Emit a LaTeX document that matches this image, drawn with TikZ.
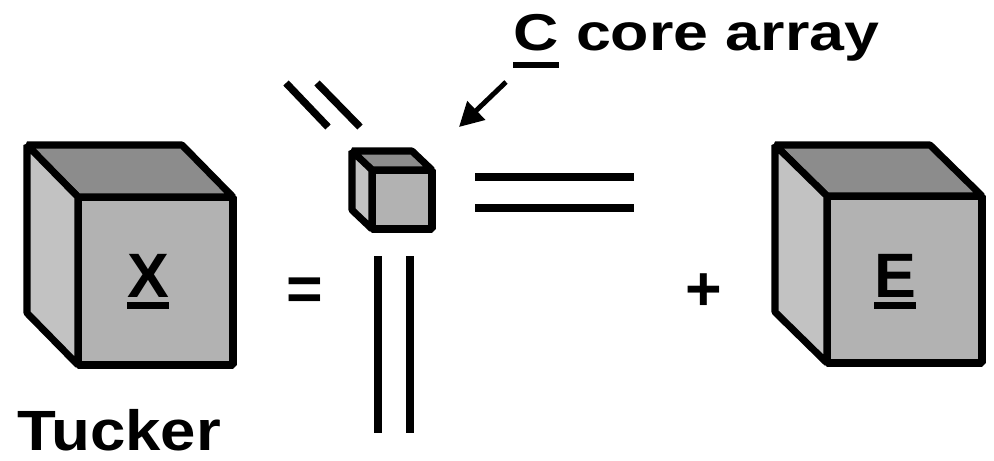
\documentclass[tikz,border=0pt]{standalone}
\usepackage{fontspec}
\setmainfont{Liberation Sans}
\usetikzlibrary{arrows.meta}
\definecolor{topgray}{gray}{0.55}
\definecolor{sidegray}{gray}{0.76}
\definecolor{frontgray}{gray}{0.70}
\newcommand\ulbox[2]{\setbox0\hbox{#2}\rlap{\copy0}\rule[-#1]{\wd0}{0.11em}}

\begin{document}
\begin{tikzpicture}[x=0.02cm,y=-0.02cm,>=Latex,
  face/.style={draw=black,line width=4pt,line join=bevel},
  bar/.style={line width=4.2pt},
  pointer/.style={-{Triangle[length=0.48cm,width=0.5cm]},line width=2.8pt},
  big/.style={font=\fontsize{35.7}{40}\selectfont\bfseries,inner sep=0pt}]
  \useasboundingbox (0,0) rectangle (994,460);
  % cubes: front face corners, then depth of the back
  \foreach \xa/\ya/\xb/\yb/\dx/\dy in {78/197/233/365/51/52,827/196/982/363/52/51,372/170/432/229/20/19}{
    \filldraw[face,fill=frontgray] (\xa,\ya) rectangle (\xb,\yb);
    \filldraw[face,fill=topgray] (\xa,\ya) -- ++(-\dx,-\dy) -- (\xb-\dx,\ya-\dy) -- (\xb,\ya) -- cycle;
    \filldraw[face,fill=sidegray] (\xa,\ya) -- ++(-\dx,-\dy) -- (\xa-\dx,\yb-\dy) -- (\xa,\yb) -- cycle;
  }
  % factor matrices
  \draw[bar] (286,83) -- (328,127) (317,83) -- (360,127);
  \draw[bar] (475,177) -- (634,177) (475,208) -- (634,208);
  \draw[bar] (378,256) -- (378,433) (410,256) -- (410,433);

  \node[big,anchor=base] (xlabel) at (148,297) {\ulbox{0.19em}{X}};
  \node[big,anchor=base] (elabel) at (895,297) {\ulbox{0.19em}{E}};
  \node[big,anchor=base] (eqsign) at (305,310) {=};
  \node[big,anchor=base] (plussign) at (704,310) {+};
  \node[anchor=base west,inner sep=0pt,font=\fontsize{32.3}{36}\selectfont\bfseries] (tucker) at (17,450) {\scalebox{1.12}[1]{Tucker}};
  \node[anchor=base west,inner sep=0pt,font=\fontsize{29.5}{34}\selectfont\bfseries] (coretext) at (513,50) {\scalebox{1.21}[1]{\ulbox{0.35em}{C} core array}};
  \coordinate (arrowtail) at (506,82);
  \coordinate (arrowtip) at (459,127);
  \draw[pointer] (arrowtail) -- (arrowtip);
\end{tikzpicture}
\end{document}
